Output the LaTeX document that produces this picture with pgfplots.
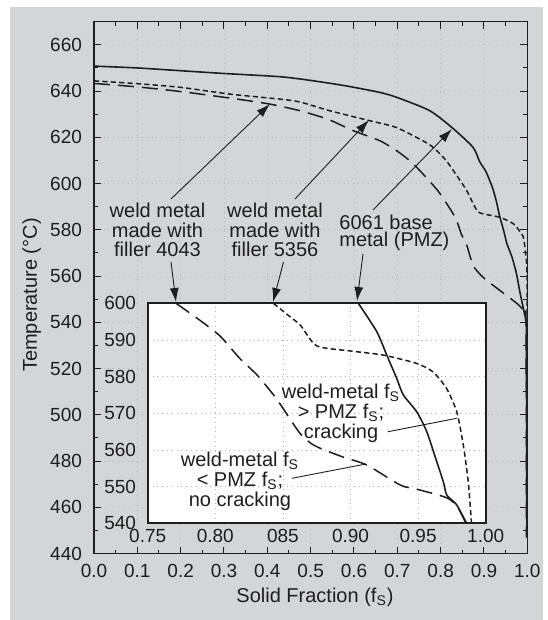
\documentclass[border=0pt]{standalone}
\usepackage{fontspec}
\setmainfont{Liberation Sans}
\usepackage{pgfplots}
\pgfplotsset{compat=1.18}
\usetikzlibrary{arrows.meta}
\definecolor{bg}{RGB}{212,213,215}
\definecolor{ink}{RGB}{30,30,30}

\begin{document}
\begin{tikzpicture}
% page and grey panel, in pixel units of the reference
\begin{scope}[x=0.5pt,y=-0.5pt]
\useasboundingbox (0,0) rectangle (543,620);
\fill[white] (0,0) rectangle (543,620);
\fill[bg] (10,7.3) rectangle (543,620);
\end{scope}

\pgfplotsset{
  lsolid/.style={ink, line width=0.8pt, smooth, tension=0.4},
  lshort/.style={ink, line width=0.75pt, dash pattern=on 2.6pt off 1.6pt, smooth, tension=0.4},
  llong/.style={ink, line width=0.75pt, dash pattern=on 8pt off 4pt, smooth, tension=0.4},
}

% main axis
\begin{axis}[
  at={(47pt,-276.75pt)}, anchor=south west,
  scale only axis, width=216.65pt, height=265.9pt,
  xmin=0, xmax=1, ymin=440, ymax=670,
  xtick={0,0.1,0.2,0.3,0.4,0.5,0.6,0.7,0.8,0.9,1},
  ytick={440,460,...,660},
  minor x tick num=1, minor y tick num=1,
  major tick length=3.5pt, minor tick length=2pt,
  axis line style={ink, line width=0.7pt},
  tick style={ink, line width=0.5pt},
  grid=major, grid style={gray!60, dotted, line width=0.4pt},
  /pgf/number format/assume math mode=true,
  tick label style={font=\fontsize{9.5}{10}\selectfont, color=ink},
  x tick label style={yshift=-2pt, /pgf/number format/.cd, fixed, fixed zerofill, precision=1},
  y tick label style={xshift=-2.5pt},
  label style={font=\fontsize{10}{10}\selectfont, color=ink},
  xlabel={Solid Fraction (f\textsubscript{S})},
  ylabel={Temperature (°C)},
  xlabel style={at={(axis description cs:0.51,-0.082)}, anchor=center},
  ylabel style={at={(axis description cs:-0.144,0.486)}, anchor=center},
]
% 6061 base metal (PMZ)
\addplot[lsolid] coordinates {
(0,650.8) (0.1,650.0) (0.2,648.8) (0.3,647.6) (0.43,646.2) (0.5,644.6)
(0.58,642.3) (0.66,639.4) (0.70,637.2) (0.775,631.5) (0.83,623.6)
(0.875,615.6) (0.89,609.5) (0.905,605) (0.92,598) (0.929,592) (0.936,586)
(0.945,580) (0.953,574) (0.965,568) (0.975,561) (0.983,553) (0.992,545)
(0.997,540) (0.998,530) (0.999,447)
};
% weld metal, filler 5356
\addplot[lshort] coordinates {
(0,644.4) (0.1,643.2) (0.2,641.6) (0.313,638.7) (0.43,636.5) (0.475,635.3)
(0.544,631.5) (0.636,627.2) (0.697,624.3) (0.759,618.5) (0.783,615.6)
(0.813,609.9) (0.845,601.3) (0.86,597) (0.876,591) (0.886,587.8)
(0.9,586.8) (0.937,585.4) (0.968,582.6) (0.982,579.5) (0.991,576.8)
(0.996,570) (0.9985,565) (0.9995,551) (0.9995,447)
};
% weld metal, filler 4043
\addplot[llong] coordinates {
(0,643.3) (0.1,641.8) (0.2,639.8) (0.32,636.8) (0.405,634.4) (0.475,631.5)
(0.54,627.8) (0.598,622.9) (0.66,618.5) (0.7,614) (0.737,608.5)
(0.791,597.5) (0.822,589) (0.837,584) (0.848,578) (0.86,573.5)
(0.875,564.5) (0.895,560) (0.914,557) (0.96,550.5) (0.98,547.5)
(0.991,545) (0.997,540) (0.998,447)
};
\end{axis}

% inset
\begin{axis}[
  at={(73.85pt,-261.65pt)}, anchor=south west,
  scale only axis, width=169pt, height=110pt,
  xmin=0.75, xmax=1, ymin=540, ymax=600,
  xtick={0.75,0.8,0.85,0.9,0.95,1},
  xticklabels={0.75,0.80,085,0.90,0.95,1.00},
  ytick={540,550,...,600},
  major tick length=0pt,
  axis background/.style={fill=white},
  axis line style={ink, line width=0.9pt},
  grid=major, grid style={gray!60, dotted, line width=0.4pt},
  /pgf/number format/assume math mode=true,
  tick label style={font=\fontsize{9.5}{10}\selectfont, color=ink},
  x tick label style={yshift=0.5pt},
  y tick label style={xshift=-2.3pt},
]
\addplot[lsolid] coordinates {
(0.9058,600) (0.9194,592.3) (0.9268,585.9) (0.9342,579.5) (0.9391,575)
(0.949,570.4) (0.9564,565) (0.9638,556.8) (0.9687,551.3) (0.9712,547.7)
(0.9786,545) (0.986,539.5)
};
\addplot[lshort] coordinates {
(0.843,600) (0.853,597) (0.863,594) (0.875,588.4) (0.9,587) (0.924,585.9)
(0.949,583.6) (0.961,581.3) (0.971,576.8) (0.9786,570.4) (0.9834,561.4)
(0.9871,551.3) (0.9896,539.5)
};
\addplot[llong] coordinates {
(0.771,600) (0.79,595) (0.804,590.9) (0.818,585) (0.831,580.4) (0.845,574.1)
(0.855,568.6) (0.8627,564.5) (0.87,562) (0.8774,560.5) (0.895,558)
(0.912,555.9) (0.937,550.4) (0.949,549.3) (0.971,547) (0.979,544.5)
(0.986,540)
};
\end{axis}

% annotations, in pixel units of the reference
\begin{scope}[x=0.5pt,y=-0.5pt, ink,
  ann/.style={font=\fontsize{10}{9.8}\selectfont, align=center, inner sep=0pt},
  arr/.style={line width=0.45pt, -{Latex[length=7pt,width=4.5pt]}}]
\node[ann] at (157.5,230) {weld metal\\made with\\filler 4043};
\node[ann] at (275,230) {weld metal\\made with\\filler 5356};
\node[ann, align=left, anchor=west, font=\fontsize{10}{8.8}\selectfont] at (339,233) {6061 base\\metal (PMZ)};
\draw[arr] (171,199) -- (270,104);
\draw[arr] (171,262) -- (176,302);
\draw[arr] (295,199) -- (369,120);
\draw[arr] (283.5,262) -- (273,302);
\draw[arr] (373,210) -- (452,129);
\draw[arr] (363,254) -- (357,301);
\node[ann, font=\fontsize{10}{10}\selectfont] at (341,413) {weld-metal f\textsubscript{S}\\> PMZ f\textsubscript{S};\\cracking};
\node[ann, font=\fontsize{10}{10}\selectfont] at (240,481) {weld-metal f\textsubscript{S}\\< PMZ f\textsubscript{S};\\no cracking};
\draw[line width=0.45pt] (388,431.7) -- (456.7,418.3);
\draw[line width=0.45pt] (291.7,478.3) -- (366,464);
\end{scope}
\end{tikzpicture}
\end{document}
